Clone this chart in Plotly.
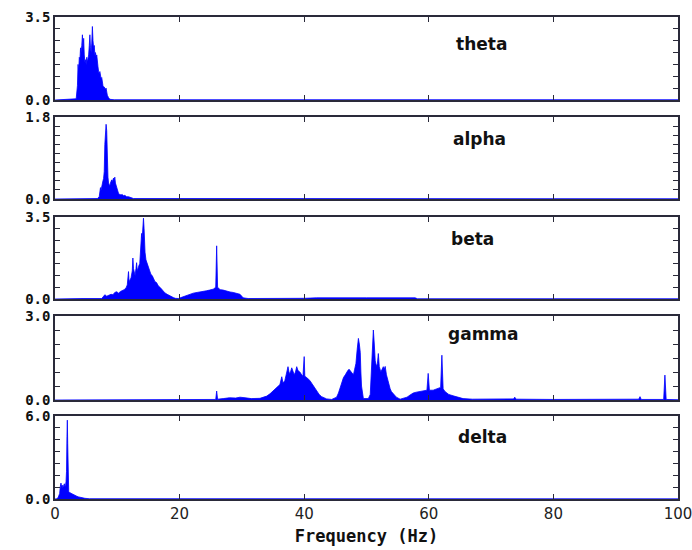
import plotly.graph_objects as go
from plotly.subplots import make_subplots

# ---- data ----
band_names = ["theta", "alpha", "beta", "gamma", "delta"]

theta_f = [0, 3.0, 3.4, 3.6, 3.7, 3.8, 3.9, 4.0, 4.1, 4.2, 4.3, 4.4, 4.5, 4.6, 4.7, 4.8, 4.9, 5.0, 5.1, 5.2,
           5.3, 5.4, 5.5, 5.6, 5.7, 5.8, 5.9, 6.0, 6.1, 6.2, 6.3, 6.4, 6.5, 6.6, 6.7, 6.8, 6.9, 7.0, 7.1, 7.2,
           7.3, 7.4, 7.5, 7.6, 7.7, 7.8, 7.9, 8.0, 8.1, 8.2, 8.3, 8.4, 8.6, 8.8, 9.5, 100]
theta_p = [0, 0.02, 0.05, 0.6, 1.5, 1.2, 1.8, 1.7, 2.2, 2.0, 2.3, 2.75, 2.1, 2.6, 1.9, 1.6, 1.7, 1.5, 1.8, 1.6,
           1.75, 1.9, 2.3, 2.75, 2.2, 2.0, 2.4, 3.1, 2.5, 2.2, 2.3, 1.9, 2.0, 1.8, 1.9, 1.5, 1.4, 1.2, 1.1, 1.2,
           0.95, 0.9, 0.95, 0.7, 0.6, 0.55, 0.55, 0.5, 0.45, 0.5, 0.3, 0.2, 0.1, 0.03, 0.01, 0.01]

alpha_f = [0, 6.8, 7.1, 7.2, 7.3, 7.4, 7.5, 7.6, 7.7, 7.8, 7.9, 8.0, 8.1, 8.2, 8.3, 8.35, 8.4, 8.5, 8.6, 8.7,
           8.8, 8.9, 9.0, 9.1, 9.2, 9.3, 9.4, 9.5, 9.6, 9.7, 9.8, 9.9, 10.0, 10.2, 10.4, 10.6, 10.8, 11.0,
           11.2, 11.5, 11.8, 12.2, 12.6, 100]
alpha_p = [0, 0.01, 0.05, 0.15, 0.25, 0.2, 0.3, 0.28, 0.4, 0.45, 0.6, 1.2, 1.55, 1.64, 1.5, 1.2, 0.7, 0.48,
           0.35, 0.3, 0.28, 0.35, 0.4, 0.42, 0.38, 0.45, 0.46, 0.4, 0.48, 0.35, 0.3, 0.27, 0.2, 0.12, 0.1,
           0.09, 0.1, 0.07, 0.08, 0.05, 0.05, 0.03, 0.01, 0.005]

beta_f = [0, 2.0, 4.5, 7.5, 7.8, 8.0, 8.3, 8.6, 9.0, 9.3, 9.6, 9.9, 10.2, 10.5, 10.8, 11.1, 11.4, 11.6, 11.8,
          11.9, 12.0, 12.2, 12.4, 12.5, 12.6, 12.7, 12.85, 13.0, 13.1, 13.2, 13.35, 13.5, 13.6, 13.8, 13.9,
          14.0, 14.1, 14.2, 14.3, 14.35, 14.45, 14.6, 14.8, 15.0, 15.2, 15.4, 15.6, 15.8, 16.05, 16.3, 16.6,
          16.85, 17.2, 17.65, 18.0, 18.5, 19.0, 19.3, 19.8, 20.1, 20.6, 21.0, 21.5, 22.2, 22.8, 23.5, 24.3,
          24.8, 25.4, 25.8, 25.95, 26.1, 26.5, 27.0, 27.5, 28.1, 28.6, 29.2, 29.7, 30.2, 31.0, 40.0, 42.0,
          50.0, 57.8, 58.2, 100]
beta_p = [0, 0.02, 0.02, 0.02, 0.1, 0.18, 0.12, 0.15, 0.2, 0.18, 0.28, 0.31, 0.25, 0.32, 0.35, 0.4, 0.47, 0.6,
          1.17, 0.7, 0.8, 0.9, 1.2, 1.75, 1.3, 1.1, 1.0, 1.3, 1.55, 1.2, 1.4, 1.45, 1.5, 2.2, 2.8, 2.6, 3.1,
          3.45, 3.0, 2.4, 2.0, 1.67, 1.5, 1.3, 1.2, 1.05, 1.0, 0.85, 0.74, 0.7, 0.55, 0.5, 0.38, 0.26, 0.2,
          0.12, 0.06, 0.03, 0.02, 0.05, 0.1, 0.15, 0.18, 0.25, 0.28, 0.3, 0.35, 0.38, 0.42, 0.5, 2.27, 0.5,
          0.4, 0.38, 0.33, 0.3, 0.28, 0.25, 0.2, 0.05, 0.02, 0.03, 0.05, 0.05, 0.05, 0.01, 0.01]

gamma_f = [0, 20, 25.8, 25.95, 26.1, 27, 28, 29, 29.7, 30.5, 31.5, 32.9, 33.5, 34.0, 34.5, 35.0, 35.4, 35.8,
           36.1, 36.4, 36.6, 36.9, 37.1, 37.4, 37.6, 37.8, 38.0, 38.2, 38.4, 38.6, 38.8, 39.0, 39.3, 39.6,
           39.8, 40.0, 40.1, 40.4, 40.7, 40.9, 41.2, 41.5, 41.8, 42.0, 42.4, 42.8, 43.2, 43.6, 44.4, 45.0,
           45.2, 45.5, 45.7, 46.0, 46.3, 46.6, 46.8, 47.0, 47.2, 47.5, 47.7, 47.9, 48.1, 48.3, 48.5, 48.7,
           48.85, 49.0, 49.1, 49.2, 49.5, 50.3, 50.6, 50.7, 50.8, 50.95, 51.1, 51.25, 51.4, 51.6, 51.75,
           51.9, 52.05, 52.3, 52.5, 52.7, 52.85, 53.0, 53.2, 53.5, 53.8, 54.0, 54.4, 54.8, 55.4, 56.0, 56.5,
           57.0, 57.5, 58.0, 58.6, 59.2, 59.7, 59.9, 60.1, 60.7, 61.1, 61.5, 61.9, 62.1, 62.3, 62.6, 63.2,
           63.9, 64.6, 65.5, 67, 70, 73.6, 73.8, 74.0, 80, 85, 90, 93.7, 93.9, 94.1, 97.7, 97.9, 98.1, 100]
gamma_p = [0, 0.01, 0.02, 0.32, 0.03, 0.05, 0.08, 0.07, 0.1, 0.08, 0.05, 0.06, 0.1, 0.14, 0.22, 0.32, 0.4, 0.5,
           0.55, 0.83, 0.6, 0.7, 0.9, 1.19, 0.95, 1.0, 1.15, 1.0, 0.9, 1.0, 1.19, 1.05, 1.0, 0.9,
           0.85, 1.55, 0.85, 0.8, 0.75, 0.7, 0.6, 0.5, 0.38, 0.3, 0.2, 0.12, 0.08, 0.04, 0.02, 0.06,
           0.1, 0.25, 0.4, 0.6, 0.8, 0.9, 1.0, 1.05, 1.1, 1.0, 0.95, 0.9, 1.1, 1.3, 1.8, 2.2,
           2.0, 1.7, 1.0, 0.5, 0.05, 0.05, 0.2, 0.8, 1.3, 2.0, 2.5, 2.0, 1.4, 1.2, 1.3,
           1.66, 1.2, 1.0, 1.1, 1.19, 1.1, 1.2, 0.9, 0.6, 0.4, 0.3, 0.2, 0.1, 0.03, 0.06, 0.1,
           0.18, 0.25, 0.28, 0.3, 0.32, 0.35, 0.95, 0.35, 0.35, 0.38, 0.4, 0.45, 1.6, 0.4, 0.3, 0.2,
           0.15, 0.1, 0.05, 0.03, 0.03, 0.04, 0.1, 0.03, 0.02, 0.03, 0.02, 0.03, 0.12, 0.02, 0.02, 0.89, 0.02, 0.01]

delta_f = [0, 0.3, 0.5, 0.65, 0.75, 0.85, 0.96, 1.05, 1.17, 1.25, 1.35, 1.5, 1.6, 1.7, 1.77, 1.85, 1.92,
           1.98, 2.04, 2.1, 2.2, 2.4, 2.6, 2.9, 3.2, 3.5, 3.8, 4.0, 4.4, 4.8, 5.5, 100]
delta_p = [0, 0.02, 0.1, 0.3, 0.4, 0.9, 1.15, 0.9, 1.0, 0.8, 0.9, 1.1, 0.9, 1.0, 1.25, 2.0, 4.5,
           5.7, 4.0, 0.7, 0.55, 0.45, 0.4, 0.3, 0.28, 0.2, 0.15, 0.12, 0.08, 0.05, 0.02, 0.01]

freqs = [theta_f, alpha_f, beta_f, gamma_f, delta_f]
powers = [theta_p, alpha_p, beta_p, gamma_p, delta_p]

y_max = [3.5, 1.8, 3.5, 3.0, 6.0]
y_step = [0.5, 0.2, 0.5, 0.5, 6.0 / 7]
x_ticks = [0, 20, 40, 60, 80, 100]
x_title = "Frequency (Hz)"

# ---- figure ----
W, H = 692, 550
ml, mr, mt, mb = 55, 14, 17, 51
ph = H - mt - mb
pw = W - ml - mr
panel_px = [(17, 100), (117, 199), (217, 299), (316, 400), (416, 499)]
label_px = [(481, 44), (479, 139), (472, 239), (483, 334), (482, 437)]

fig = make_subplots(rows=5, cols=1, shared_xaxes=True)
frame = "#2a2a3a"
for i in range(5):
    r = i + 1
    fig.add_trace(go.Scatter(x=freqs[i], y=powers[i], mode="lines",
                             line=dict(color="#0000ff", width=0.8),
                             fill="tozeroy", fillcolor="#0000ff",
                             showlegend=False, hoverinfo="skip"), row=r, col=1)
    n = int(round(y_max[i] / y_step[i]))
    tv = [k * y_step[i] for k in range(n + 1)]
    tt = [""] * (n + 1)
    tt[0] = "0.0"
    tt[-1] = f"{y_max[i]:.1f}"
    top, bot = panel_px[i]
    fig.update_yaxes(row=r, col=1, range=[0, y_max[i]], tickvals=tv, ticktext=tt,
                     ticks="inside", ticklen=5, tickcolor=frame, tickwidth=1,
                     showline=True, linecolor=frame, linewidth=1.5, mirror="ticks",
                     showgrid=False, zeroline=False, automargin=False,
                     tickfont=dict(family="DejaVu Sans Mono", size=14, color="#111", weight="bold"),
                     domain=[(H - mb - bot) / ph, (H - mb - top) / ph])
    fig.update_xaxes(row=r, col=1, range=[0, 100], tickvals=x_ticks,
                     ticks="inside", ticklen=5, tickcolor=frame, tickwidth=1,
                     showline=True, linecolor=frame, linewidth=1.5, mirror="ticks",
                     showgrid=False, zeroline=False, automargin=False,
                     ticklabeloverflow="allow",
                     tickfont=dict(family="DejaVu Sans", size=15, color="#222"))
    lx, ly = label_px[i]
    fig.add_annotation(x=(lx - ml) / pw, y=(H - mb - ly) / ph, xref="paper", yref="paper",
                       xanchor="center", yanchor="middle",
                       text=f"<b>{band_names[i]}</b>", showarrow=False,
                       font=dict(family="DejaVu Sans", size=17, color="#111"))

fig.update_xaxes(row=5, col=1, title=dict(text=f"<b>{x_title}</b>", standoff=8,
                 font=dict(family="DejaVu Sans Mono", size=17, color="#111")))

fig.update_layout(width=W, height=H, margin=dict(l=ml, r=mr, t=mt, b=mb),
                  plot_bgcolor="white", paper_bgcolor="white")

fig.write_html("out.html", config={"displayModeBar": False},
               post_script="document.body.style.margin='0';")
